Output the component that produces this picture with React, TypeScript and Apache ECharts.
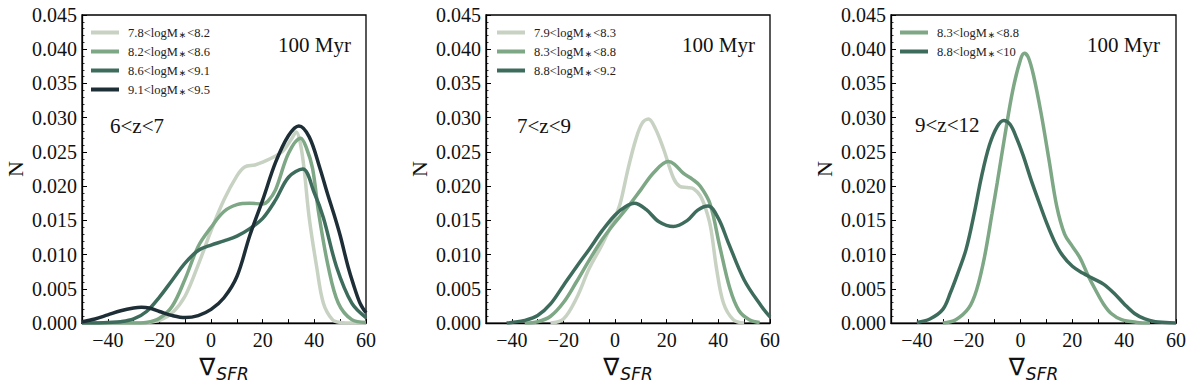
import React, { useEffect, useRef } from 'react';
import * as echarts from 'echarts';

// ---------- data ----------
const xTickLabels = [-40, -20, 0, 20, 40, 60];

// Panel 1: 6<z<7
const p1Names = ['7.8<logM*<8.2', '8.2<logM*<8.6', '8.6<logM*<9.1', '9.1<logM*<9.5'];
const p1A_x = [-50, -30, -25, -20, -15, -10, -5, 0, 5, 10, 13, 17, 20, 25, 28, 31, 33, 34.5, 36, 38, 40.9, 43.5, 47, 50, 55, 60];
const p1A_y = [0, 0, 0.0001, 0.0004, 0.0015, 0.004, 0.0085, 0.0135, 0.018, 0.0215, 0.0228, 0.0231, 0.0235, 0.0244, 0.0252, 0.0268, 0.0279, 0.0264, 0.0226, 0.0154, 0.0082, 0.0029, 0.0005, 0.0001, 0, 0];
const p1B_x = [-50, -30, -25, -20, -15, -10, -5, 0, 5, 10, 15, 20, 22, 25, 30, 34.7, 37, 39.3, 41.7, 45.4, 49.3, 54.5, 60];
const p1B_y = [0, 0, 0.0001, 0.0007, 0.0025, 0.0065, 0.0112, 0.014, 0.0163, 0.0173, 0.0175, 0.0174, 0.0178, 0.0195, 0.0248, 0.027, 0.0255, 0.0226, 0.016, 0.0082, 0.0029, 0.0005, 0.0001];
const p1C_x = [-50, -45, -40, -35, -30, -25, -20, -15, -10, -5, 0, 5, 10, 15, 20, 25, 30, 35.5, 40, 43.5, 48.6, 54.5, 60];
const p1C_y = [0, 0, 0.0001, 0.0002, 0.0006, 0.0017, 0.0038, 0.0063, 0.0088, 0.0106, 0.0114, 0.012, 0.0127, 0.0138, 0.0153, 0.018, 0.0213, 0.0225, 0.019, 0.0154, 0.0082, 0.0029, 0.0008];
const p1D_x = [-50, -45, -40, -35, -30, -27, -24, -20, -15, -10, -5, 0, 5, 10, 15, 20, 25, 30, 34, 38, 42, 45, 48, 50, 53, 55, 57.7, 60];
const p1D_y = [0.0002, 0.0006, 0.0012, 0.0018, 0.0022, 0.0023, 0.0022, 0.0017, 0.0011, 0.0008, 0.0011, 0.002, 0.0037, 0.0068, 0.0128, 0.018, 0.0235, 0.0274, 0.0288, 0.0272, 0.0228, 0.019, 0.0154, 0.0128, 0.0083, 0.0058, 0.0029, 0.0015];

// Panel 2: 7<z<9
const p2Names = ['7.9<logM*<8.3', '8.3<logM*<8.8', '8.8<logM*<9.2'];
const p2A_x = [-25, -20, -15, -10, -5, 0, 2, 5, 8, 10.5, 12.9, 15.5, 18.7, 22.6, 25, 28, 30.5, 33, 35, 37, 39.4, 42, 45.8, 50];
const p2A_y = [0, 0.0006, 0.0036, 0.008, 0.0115, 0.0155, 0.0175, 0.0225, 0.0268, 0.0292, 0.0298, 0.0285, 0.0255, 0.0212, 0.02, 0.0198, 0.0196, 0.0186, 0.0168, 0.014, 0.0077, 0.0029, 0.0005, 0];
const p2B_x = [-35, -30, -25, -20, -15, -10, -5, 0, 5, 10, 15, 20.6, 23, 26.4, 30, 33, 36.8, 40.6, 44.5, 48, 52, 56];
const p2B_y = [0, 0.0002, 0.001, 0.003, 0.006, 0.0092, 0.0122, 0.0147, 0.017, 0.0195, 0.022, 0.0236, 0.0232, 0.0219, 0.021, 0.02, 0.0174, 0.0111, 0.005, 0.0018, 0.0005, 0.0001];
const p2C_x = [-42, -40, -35, -30, -25, -20, -15, -10, -5, 0, 4, 7.5, 12, 17, 22.6, 28, 32, 36, 40, 43.8, 50, 56.6, 60];
const p2C_y = [0, 0.0001, 0.0004, 0.0011, 0.0028, 0.0055, 0.0082, 0.0108, 0.0135, 0.0158, 0.017, 0.0175, 0.0166, 0.0148, 0.0141, 0.015, 0.0165, 0.0171, 0.0153, 0.0118, 0.0063, 0.0025, 0.0009];

// Panel 3: 9<z<12
const p3Names = ['8.3<logM*<8.8', '8.8<logM*<10'];
const p3B_x = [-30, -25, -20, -17, -14, -11, -9, -6, -3, 0, 1.5, 3, 5, 8, 11, 14, 17, 20, 23, 26, 29, 32, 35, 39, 45, 50];
const p3B_y = [0, 0.0005, 0.0022, 0.0048, 0.0095, 0.016, 0.0205, 0.0275, 0.034, 0.0385, 0.0394, 0.0388, 0.0362, 0.0305, 0.0238, 0.017, 0.013, 0.0112, 0.0095, 0.007, 0.0048, 0.0028, 0.0014, 0.0005, 0.0001, 0];
const p3C_x = [-40, -35, -30, -27, -24, -21, -18, -15, -12, -9, -6.5, -4, -1.5, 1, 4, 7, 10, 13, 16, 20, 24, 28, 32, 36, 40, 44, 48, 52, 56, 60];
const p3C_y = [0.0001, 0.0006, 0.002, 0.0045, 0.0075, 0.0108, 0.0158, 0.0215, 0.026, 0.0287, 0.0296, 0.029, 0.027, 0.0245, 0.021, 0.0178, 0.0147, 0.012, 0.01, 0.0083, 0.0073, 0.0065, 0.0057, 0.0044, 0.0028, 0.0014, 0.0006, 0.0002, 0.0001, 0];

// ---------- styling ----------
const SERIF = "'Liberation Serif', 'Times New Roman', Times, serif";
const SANS = "'DejaVu Sans', sans-serif";
const COL_A = '#c7d2c3';
const COL_B = '#7da785';
const COL_C = '#3e6c5c';
const COL_D = '#1e2e36';

const zip = (xs: number[], ys: number[]) => xs.map((x, i) => [x, ys[i]]);
const fmtX = (v: number) => (xTickLabels.includes(Math.round(v)) ? (v < 0 ? '\u2212' + Math.abs(v) : String(v)) : '');

const panels = [
  {
    left: 82, width: 284, legendLeft: 91, zText: '6<z<7', zX: 110, zY: 126, myrX: 278,
    lines: [
      { name: p1Names[0], x: p1A_x, y: p1A_y, color: COL_A },
      { name: p1Names[1], x: p1B_x, y: p1B_y, color: COL_B },
      { name: p1Names[2], x: p1C_x, y: p1C_y, color: COL_C },
      { name: p1Names[3], x: p1D_x, y: p1D_y, color: COL_D },
    ],
  },
  {
    left: 486, width: 284, legendLeft: 497, zText: '7<z<9', zX: 517, zY: 126, myrX: 682,
    lines: [
      { name: p2Names[0], x: p2A_x, y: p2A_y, color: COL_A },
      { name: p2Names[1], x: p2B_x, y: p2B_y, color: COL_B },
      { name: p2Names[2], x: p2C_x, y: p2C_y, color: COL_C },
    ],
  },
  {
    left: 891, width: 285, legendLeft: 900, zText: '9<z<12', zX: 915, zY: 125, myrX: 1087,
    lines: [
      { name: p3Names[0], x: p3B_x, y: p3B_y, color: COL_B },
      { name: p3Names[1], x: p3C_x, y: p3C_y, color: COL_C },
    ],
  },
];

function buildOption() {
  const grid: any[] = [];
  const xAxis: any[] = [];
  const yAxis: any[] = [];
  const series: any[] = [];
  const legend: any[] = [];
  const graphic: any[] = [];

  panels.forEach((p, i) => {
    grid.push({
      left: p.left, top: 15, width: p.width, height: 312,
      show: true, borderColor: '#000', borderWidth: 1.3, backgroundColor: 'transparent',
    });
    xAxis.push({
      gridIndex: i, type: 'value', min: -50, max: 60, interval: 10,
      name: '{a|\u2207}{b|SFR}', nameLocation: 'middle', nameGap: 26,
      nameTextStyle: {
        rich: {
          a: { fontSize: 24, fontFamily: SANS, color: '#111', verticalAlign: 'bottom', padding: [0, 1, 3, 0] },
          b: { fontSize: 17, fontFamily: SANS, fontStyle: 'italic', color: '#111', verticalAlign: 'bottom' },
        },
      },
      axisLine: { show: true, onZero: false, lineStyle: { color: '#000', width: 1.3 } },
      axisTick: { show: true, inside: true, length: 4, lineStyle: { color: '#000', width: 1 } },
      minorTick: { show: false },
      splitLine: { show: false },
      axisLabel: { formatter: fmtX, fontFamily: SERIF, fontSize: 20, color: '#111', margin: 7 },
    });
    yAxis.push({
      gridIndex: i, type: 'value', min: 0, max: 0.045, interval: 0.005,
      name: 'N', nameLocation: 'middle', nameGap: 56, nameRotate: 90,
      nameTextStyle: { fontFamily: SERIF, fontSize: 22, color: '#111' },
      axisLine: { show: true, onZero: false, lineStyle: { color: '#000', width: 1.3 } },
      axisTick: { show: true, inside: true, length: 5, lineStyle: { color: '#000', width: 1 } },
      minorTick: { show: true, splitNumber: 5, length: 2.5, lineStyle: { color: '#000', width: 0.8 } },
      splitLine: { show: false },
      axisLabel: { formatter: (v: number) => v.toFixed(3), fontFamily: SERIF, fontSize: 20, color: '#111', margin: 5 },
    });
    p.lines.forEach((l) => {
      series.push({
        type: 'line', name: l.name, xAxisIndex: i, yAxisIndex: i,
        data: zip(l.x, l.y), smooth: 0.35, showSymbol: false, symbol: 'none',
        lineStyle: { color: l.color, width: 3.5 }, itemStyle: { color: l.color },
        emphasis: { disabled: true },
      });
    });
    legend.push({
      data: p.lines.map((l) => l.name), orient: 'vertical', left: p.legendLeft, top: 26,
      padding: 0,
      icon: 'rect', itemWidth: 28, itemHeight: 4, itemGap: 6,
      selectedMode: false,
      formatter: (name: string) => {
        const parts = name.split('*');
        return `{p|${parts[0]}}{s|\u2217}{t|${parts[1]}}`;
      },
      textStyle: {
        rich: {
          p: { fontFamily: SERIF, fontSize: 12.5, color: '#222', lineHeight: 13, padding: [0, 0, 0, 4] },
          t: { fontFamily: SERIF, fontSize: 12.5, color: '#222', lineHeight: 13 },
          s: { fontFamily: SANS, fontSize: 9, color: '#222', lineHeight: 13, verticalAlign: 'bottom', padding: [0, 1, 0, 1] },
        },
      },
    });
    graphic.push({
      type: 'text', left: p.myrX, top: 34,
      style: { text: '100 Myr', font: `21px ${SERIF}`, fill: '#111' },
    });
    graphic.push({
      type: 'text', left: p.zX, top: p.zY - 11,
      style: { text: p.zText, font: `21px ${SERIF}`, fill: '#111' },
    });
  });

  return {
    animation: false,
    backgroundColor: '#fff',
    grid, xAxis, yAxis, series, legend, graphic,
  };
}

export default function App() {
  const ref = useRef<HTMLDivElement>(null);
  useEffect(() => {
    if (!ref.current) return;
    const chart = echarts.init(ref.current, null, { renderer: 'svg' });
    chart.setOption(buildOption());
    return () => chart.dispose();
  }, []);
  return <div ref={ref} style={{ position: 'absolute', left: 0, top: 0, width: 1200, height: 387 }} />;
}
